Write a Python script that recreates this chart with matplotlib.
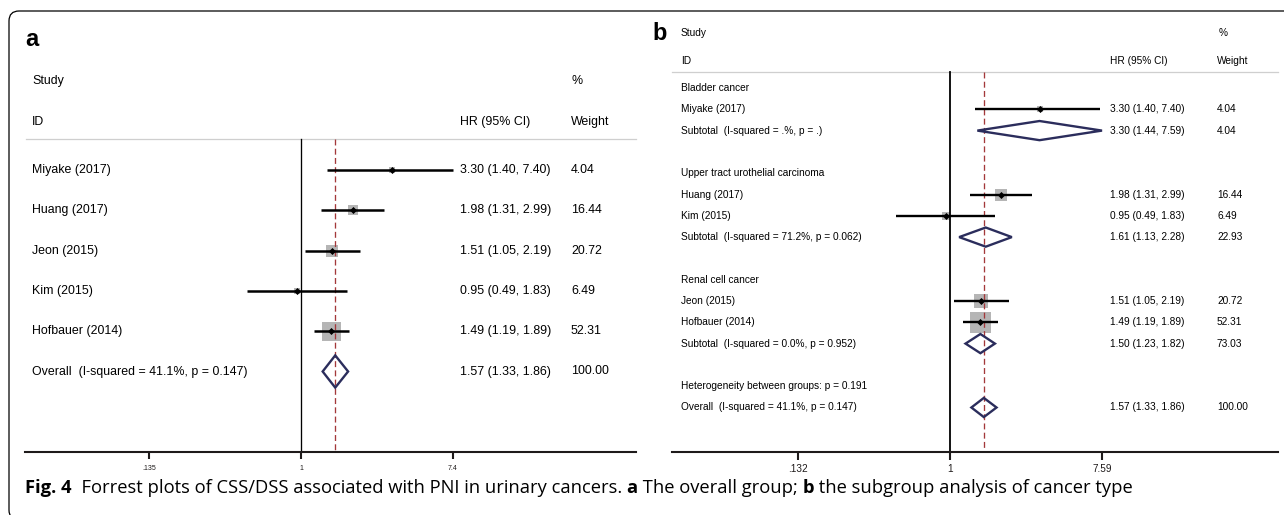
import numpy as np
import matplotlib
matplotlib.use("Agg")
import matplotlib.pyplot as plt
from matplotlib.patches import PathPatch
from matplotlib.path import Path
from matplotlib.transforms import blended_transform_factory, IdentityTransform

W, H = 1284, 515
plt.rcParams['font.family'] = ['Liberation Sans', 'DejaVu Sans']

# ---- panel a: all studies pooled ----
studies = ["Miyake (2017)", "Huang (2017)", "Jeon (2015)", "Kim (2015)", "Hofbauer (2014)"]
hr = [3.30, 1.98, 1.51, 0.95, 1.49]
ci_lo = [1.40, 1.31, 1.05, 0.49, 1.19]
ci_hi = [7.40, 2.99, 2.19, 1.83, 1.89]
weight = [4.04, 16.44, 20.72, 6.49, 52.31]

overall_label = "Overall  (I-squared = 41.1%, p = 0.147)"
overall = (1.57, 1.33, 1.86)
overall_weight = 100.00

ticks_a = [0.135, 1, 7.4]
ticklabels_a = [".135", "1", "7.4"]

# ---- panel b: by cancer type ----
groups = ["Bladder cancer", "Upper tract urothelial carcinoma", "Renal cell cancer"]
group_members = [["Miyake (2017)"], ["Huang (2017)", "Kim (2015)"], ["Jeon (2015)", "Hofbauer (2014)"]]
subtotal_labels = ["Subtotal  (I-squared = .%, p = .)",
                   "Subtotal  (I-squared = 71.2%, p = 0.062)",
                   "Subtotal  (I-squared = 0.0%, p = 0.952)"]
subtotal_hr = [3.30, 1.61, 1.50]
subtotal_lo = [1.44, 1.13, 1.23]
subtotal_hi = [7.59, 2.28, 1.82]
subtotal_weight = [4.04, 22.93, 73.03]
heterogeneity = "Heterogeneity between groups: p = 0.191"

ticks_b = [0.132, 1, 7.59]
ticklabels_b = [".132", "1", "7.59"]

caption = [("Fig. 4", "bold"),
           ("  Forrest plots of CSS/DSS associated with PNI in urinary cancers. ", "normal"),
           ("a", "bold"), (" The overall group; ", "normal"),
           ("b", "bold"), (" the subgroup analysis of cancer type", "normal")]

BOX = "#b5b5b5"
NAVY = "#2b2d5c"
RED = "#a3383a"
RULE = "#cfcfcf"


def hr_text(e, lo, hi):
    return f"{e:.2f} ({lo:.2f}, {hi:.2f})"


fig = plt.figure(figsize=(W / 100, H / 100), dpi=100)


def forest_axes(x0, x1, y_top, y_axis, x_one, px_per_ln, row0, row_step):
    """axes in pixel box; x log scale so that HR 1 sits at x_one, rows in units of row_step"""
    ax = fig.add_axes([x0 / W, 1 - y_axis / H, (x1 - x0) / W, (y_axis - y_top) / H])
    ax.set_xscale("log")
    ax.set_xlim(np.exp((x0 - x_one) / px_per_ln), np.exp((x1 - x_one) / px_per_ln))
    ax.set_ylim((y_axis - row0) / row_step, (y_top - row0) / row_step)
    for s in ("top", "left", "right"):
        ax.spines[s].set_visible(False)
    ax.spines["bottom"].set_linewidth(1.5)
    ax.spines["bottom"].set_color("#1e1a1a")
    ax.set_yticks([])
    ax.minorticks_off()
    ax.patch.set_alpha(0)
    return ax


def row_of(py, row0, row_step):
    return (py - row0) / row_step


def draw_study(ax, y, e, lo, hi, w, side_ref, lw):
    side = side_ref * np.sqrt(w / 52.31) * 0.72
    ax.scatter([e], [y], s=side ** 2, marker="s", c=BOX, linewidths=0, zorder=2)
    ax.hlines(y, lo, hi, color="black", lw=lw, zorder=3)
    ax.scatter([e], [y], s=3.6 ** 2, marker="D", c="black", linewidths=0, zorder=4)


def draw_diamond(ax, y, e, lo, hi, half):
    ax.fill([lo, e, hi, e], [y, y - half, y, y + half], fc="none", ec=NAVY,
            lw=1.7, joinstyle="miter", zorder=3)


# ================= panel a =================
A_ROW0, A_STEP = 170.0, 40.3
axa = forest_axes(25, 636, 11, 452, 301, 75.9, A_ROW0, A_STEP)
ta = blended_transform_factory(fig.transFigure, axa.transData)
fs_a = 8.9
rule_a = row_of(139, A_ROW0, A_STEP)
y_bottom_a = row_of(452, A_ROW0, A_STEP)

axa.plot([26 / W, 636 / W], [rule_a, rule_a], transform=ta, color=RULE, lw=0.9, clip_on=False)
axa.plot([1, 1], [rule_a, y_bottom_a], color="black", lw=0.95, zorder=2.5)
axa.plot([overall[0], overall[0]], [rule_a, y_bottom_a], color=RED, lw=0.95,
         dashes=(4.5, 2.5), zorder=2.5)

axa.text(32 / W, row_of(81, A_ROW0, A_STEP), "Study", transform=ta, fontsize=fs_a, va="center")
axa.text(572 / W, row_of(81, A_ROW0, A_STEP), "%", transform=ta, fontsize=fs_a, va="center")
axa.text(32 / W, row_of(122, A_ROW0, A_STEP), "ID", transform=ta, fontsize=fs_a, va="center")
axa.text(460 / W, row_of(122, A_ROW0, A_STEP), "HR (95% CI)", transform=ta, fontsize=fs_a, va="center")
axa.text(571 / W, row_of(122, A_ROW0, A_STEP), "Weight", transform=ta, fontsize=fs_a, va="center")

for i, name in enumerate(studies):
    draw_study(axa, i, hr[i], ci_lo[i], ci_hi[i], weight[i], 19, 1.8)
    axa.text(32 / W, i, name, transform=ta, fontsize=fs_a, va="center")
    axa.text(460 / W, i, hr_text(hr[i], ci_lo[i], ci_hi[i]), transform=ta, fontsize=fs_a, va="center")
    axa.text(571 / W, i, f"{weight[i]:.2f}", transform=ta, fontsize=fs_a, va="center")

yo = len(studies)
draw_diamond(axa, yo, *overall, 0.4)
axa.text(32 / W, yo, overall_label, transform=ta, fontsize=fs_a, va="center")
axa.text(460 / W, yo, hr_text(*overall), transform=ta, fontsize=fs_a, va="center")
axa.text(571 / W, yo, f"{overall_weight:.2f}", transform=ta, fontsize=fs_a, va="center")

axa.set_xticks(ticks_a)
axa.set_xticklabels(ticklabels_a, fontsize=5)
axa.tick_params(axis="x", length=5, width=1.5, pad=4, colors="#1e1a1a")

# ================= panel b =================
B_ROW0, B_STEP = 88.0, 21.3
axb = forest_axes(672, 1278, 11, 452, 950, 75.0, B_ROW0, B_STEP)
tb = blended_transform_factory(fig.transFigure, axb.transData)
fs_b = 7.3
rule_b = row_of(72, B_ROW0, B_STEP)
y_bottom_b = row_of(452, B_ROW0, B_STEP)

axb.plot([672 / W, 1278 / W], [rule_b, rule_b], transform=tb, color=RULE, lw=0.9, clip_on=False)
axb.plot([1, 1], [rule_b, y_bottom_b], color="black", lw=1.3, zorder=2.5)
axb.plot([overall[0], overall[0]], [rule_b, y_bottom_b], color=RED, lw=0.95,
         dashes=(4.5, 2.5), zorder=2.5)

axb.text(681 / W, row_of(33, B_ROW0, B_STEP), "Study", transform=tb, fontsize=fs_b, va="center")
axb.text(1219 / W, row_of(33, B_ROW0, B_STEP), "%", transform=tb, fontsize=fs_b, va="center")
axb.text(681 / W, row_of(61, B_ROW0, B_STEP), "ID", transform=tb, fontsize=fs_b, va="center")
axb.text(1110 / W, row_of(61, B_ROW0, B_STEP), "HR (95% CI)", transform=tb, fontsize=fs_b, va="center")
axb.text(1217 / W, row_of(61, B_ROW0, B_STEP), "Weight", transform=tb, fontsize=fs_b, va="center")

row = 0
for g, members in enumerate(group_members):
    axb.text(681 / W, row, groups[g], transform=tb, fontsize=fs_b, va="center")
    row += 1
    for name in members:
        k = studies.index(name)
        draw_study(axb, row, hr[k], ci_lo[k], ci_hi[k], weight[k], 21, 1.7)
        axb.text(681 / W, row, name, transform=tb, fontsize=fs_b, va="center")
        axb.text(1110 / W, row, hr_text(hr[k], ci_lo[k], ci_hi[k]), transform=tb, fontsize=fs_b, va="center")
        axb.text(1217 / W, row, f"{weight[k]:.2f}", transform=tb, fontsize=fs_b, va="center")
        row += 1
    draw_diamond(axb, row, subtotal_hr[g], subtotal_lo[g], subtotal_hi[g], 0.45)
    axb.text(681 / W, row, subtotal_labels[g], transform=tb, fontsize=fs_b, va="center")
    axb.text(1110 / W, row, hr_text(subtotal_hr[g], subtotal_lo[g], subtotal_hi[g]),
             transform=tb, fontsize=fs_b, va="center")
    axb.text(1217 / W, row, f"{subtotal_weight[g]:.2f}", transform=tb, fontsize=fs_b, va="center")
    row += 2

axb.text(681 / W, row, heterogeneity, transform=tb, fontsize=fs_b, va="center")
row += 1
draw_diamond(axb, row, *overall, 0.45)
axb.text(681 / W, row, overall_label, transform=tb, fontsize=fs_b, va="center")
axb.text(1110 / W, row, hr_text(*overall), transform=tb, fontsize=fs_b, va="center")
axb.text(1217 / W, row, f"{overall_weight:.2f}", transform=tb, fontsize=fs_b, va="center")

axb.set_xticks(ticks_b)
axb.set_xticklabels(ticklabels_b, fontsize=7.2)
axb.tick_params(axis="x", length=6, width=1.5, pad=3, colors="#1e1a1a")

# ---- panel letters, frame, caption ----
fig.text(25 / W, 1 - 40 / H, "a", fontsize=17, fontweight="bold", va="center")
fig.text(652 / W, 1 - 33 / H, "b", fontsize=17, fontweight="bold", va="center")

# open frame: top edge and left edge with rounded corners (display pixels)
top, left, bottom, r = H - 11, 9, -5, 10
frame_path = Path(
    [(W + 5, top), (left + r, top), (left, top), (left, top - r),
     (left, bottom + r), (left, bottom), (left + r, bottom)],
    [Path.MOVETO, Path.LINETO, Path.CURVE3, Path.CURVE3,
     Path.LINETO, Path.CURVE3, Path.CURVE3])
fig.add_artist(PathPatch(frame_path, transform=IdentityTransform(), fill=False,
                         ec="black", lw=0.9))

renderer = fig.canvas.get_renderer()
x = 25
for piece, wt in caption:
    t = fig.text(x / W, 1 - 488 / H, piece, fontsize=13.2, fontweight=wt, va="center",
                 family=["Open Sans", "DejaVu Sans"])
    x += t.get_window_extent(renderer).width

fig.savefig("out.png", dpi=100)
